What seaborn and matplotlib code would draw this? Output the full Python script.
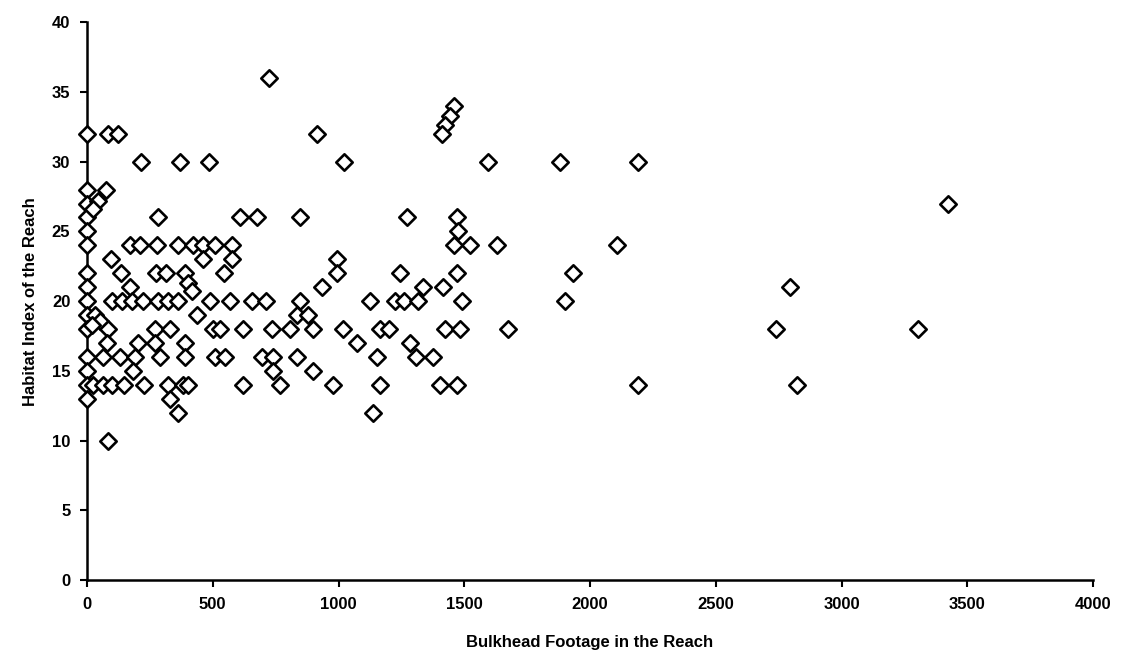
import matplotlib
matplotlib.use("Agg")
import matplotlib.pyplot as plt
import seaborn as sns
import pandas as pd

# Bulkhead footage (ft) and habitat index for each surveyed reach
footage = [
    0, 0, 0, 0, 0, 0, 0, 0, 0, 0, 0, 0, 0, 0, 0,
    45, 25, 75, 30, 50, 20,
    84, 123,
    215, 370, 485, 1020, 1594, 1881, 2190,
    915, 724,
    282, 608, 676, 847, 1272, 1471, 1475,
    171, 211, 278, 362, 421, 461, 509, 577, 1459, 1523, 1630, 2107,
    461, 577, 545,
    995, 994, 95, 135, 274, 314, 390, 1245, 1471, 1932,
    170, 400, 417, 934, 1336, 1416, 2795,
    99, 139, 179, 223, 282, 322, 362, 489, 569, 656, 712, 847,
    1125, 1225, 1260, 1316, 1491, 1900,
    437, 835, 879,
    84, 270, 330, 501, 529, 620, 735, 807, 899, 1018, 1165, 1200,
    1423, 1483, 1674, 2740, 3305,
    80, 203, 270, 390, 1074, 1284,
    64, 131, 191, 290, 390, 509, 549, 696, 740, 835, 1153, 1308, 1376,
    183, 740, 899,
    24, 64, 99, 147, 227, 322, 382, 401, 620, 767, 978, 1165, 1404,
    1471, 2192, 2823,
    330,
    362, 1137,
    84,
    1460, 1445, 1425, 1410, 3423,
]
habitat_index = [
    32, 28, 27, 26, 25, 24, 22, 21, 20, 19, 18, 16, 15, 14, 13,
    27.2, 26.6, 28, 19, 18.6, 18.3,
    32, 32,
    30, 30, 30, 30, 30, 30, 30,
    32, 36,
    26, 26, 26, 26, 26, 26, 25,
    24, 24, 24, 24, 24, 24, 24, 24, 24, 24, 24, 24,
    23, 23, 22,
    23, 22, 23, 22, 22, 22, 22, 22, 22, 22,
    21, 21.3, 20.7, 21, 21, 21, 21,
    20, 20, 20, 20, 20, 20, 20, 20, 20, 20, 20, 20,
    20, 20, 20, 20, 20, 20,
    19, 19, 19,
    18, 18, 18, 18, 18, 18, 18, 18, 18, 18, 18, 18,
    18, 18, 18, 18, 18,
    17, 17, 17, 17, 17, 17,
    16, 16, 16, 16, 16, 16, 16, 16, 16, 16, 16, 16, 16,
    15, 15, 15,
    14, 14, 14, 14, 14, 14, 14, 14, 14, 14, 14, 14, 14,
    14, 14, 14,
    13,
    12, 12,
    10,
    34, 33.3, 32.6, 32, 27,
]

x_ticks = [0, 500, 1000, 1500, 2000, 2500, 3000, 3500, 4000]
y_ticks = [0, 5, 10, 15, 20, 25, 30, 35, 40]

df = pd.DataFrame({"footage": footage, "index": habitat_index})

sns.set_style("ticks")
plt.rcParams["font.family"] = ["Liberation Sans", "DejaVu Sans"]
plt.rcParams["text.color"] = "black"
plt.rcParams["axes.labelcolor"] = "black"
plt.rcParams["xtick.color"] = "black"
plt.rcParams["ytick.color"] = "black"

fig = plt.figure(figsize=(11.23, 6.68), dpi=100)
ax = fig.add_axes([0.0775, 0.1317, 0.8958, 0.835])

sns.scatterplot(
    data=df, x="footage", y="index", ax=ax,
    marker="D", s=70, color="white", edgecolor="black", linewidth=1.9,
    zorder=3, clip_on=False,
)

ax.set_xlim(0, 4000)
ax.set_ylim(0, 40)
ax.set_xticks(x_ticks)
ax.set_yticks(y_ticks)
ax.set_xticklabels([str(t) for t in x_ticks], fontsize=12, fontweight="bold")
ax.set_yticklabels([str(t) for t in y_ticks], fontsize=12, fontweight="bold")
ax.tick_params(axis="both", direction="out", length=5, width=1.5,
               color="black", labelcolor="black", pad=7)

for side in ("top", "right"):
    ax.spines[side].set_visible(False)
for side in ("left", "bottom"):
    ax.spines[side].set_color("black")
    ax.spines[side].set_linewidth(1.8)

ax.set_xlabel("Bulkhead Footage in the Reach", fontsize=12, fontweight="bold",
              color="black", labelpad=17)
ax.set_ylabel("Habitat Index of the Reach", fontsize=12, fontweight="bold",
              color="black", labelpad=10)

fig.savefig("out.png", dpi=100, facecolor="white")
